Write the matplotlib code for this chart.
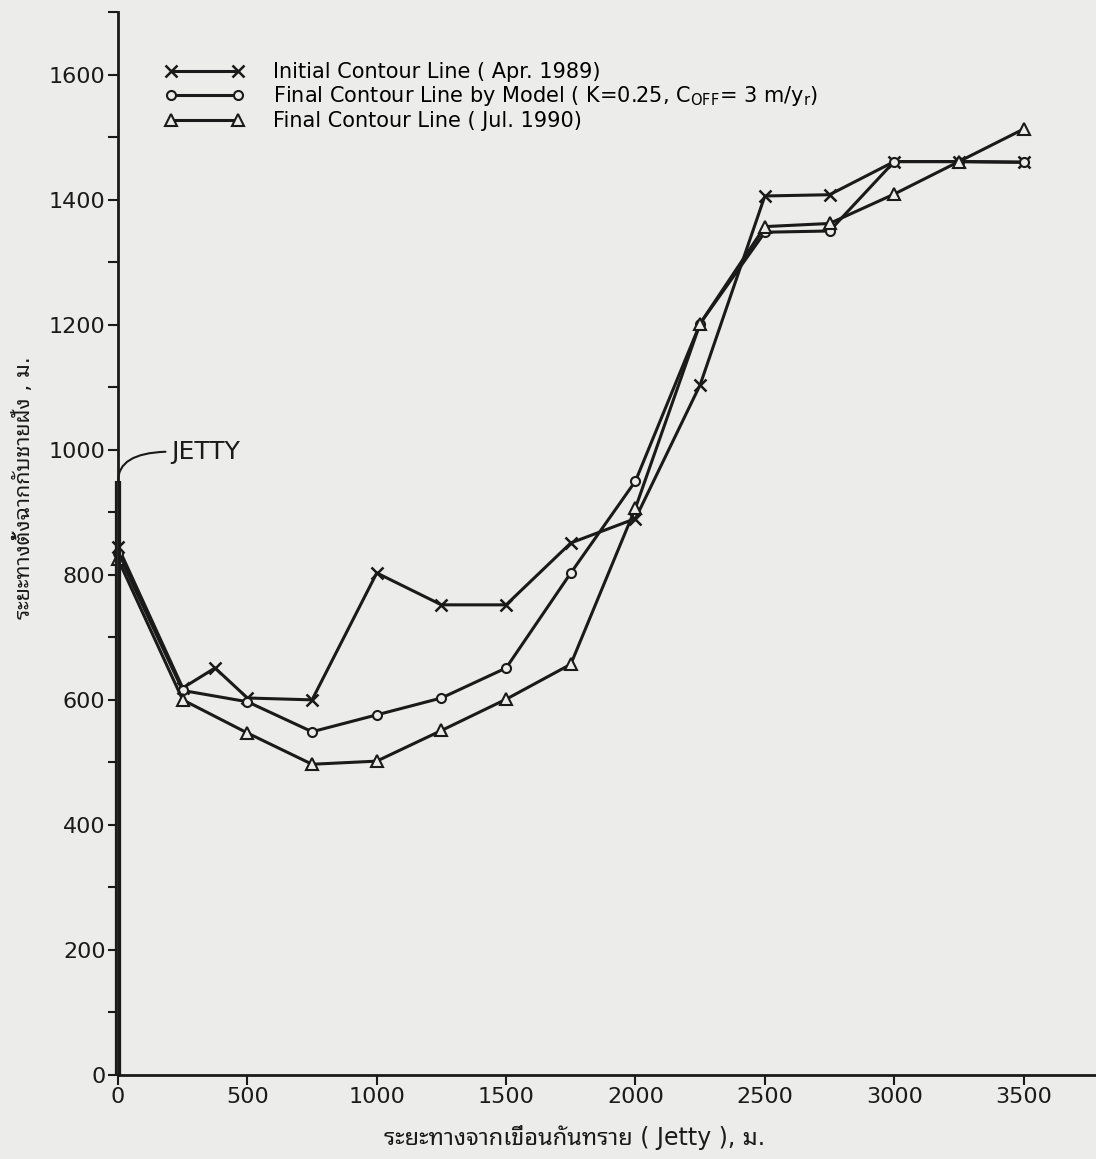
import matplotlib
matplotlib.use("Agg")
import matplotlib.pyplot as plt
from matplotlib.ticker import MultipleLocator

# font list: latin first, thai glyphs fall through to a thai family
plt.rcParams["font.family"] = ["DejaVu Sans", "Noto Sans Thai Looped", "Noto Sans Thai", "Athiti"]

# ระยะทางจาก jetty (ม.)
init_x = [0, 250, 375, 500, 750, 1000, 1250, 1500, 1750, 2000, 2250, 2500, 2750, 3000, 3250, 3500]
init_y = [845, 619, 651, 603, 600, 803, 752, 752, 851, 890, 1104, 1406, 1408, 1461, 1461, 1460]

dist = [0, 250, 500, 750, 1000, 1250, 1500, 1750, 2000, 2250, 2500, 2750, 3000, 3250, 3500]
model_y = [835, 615, 597, 549, 576, 603, 651, 803, 950, 1202, 1348, 1350, 1461, 1461, 1460]
final_y = [825, 600, 547, 497, 502, 551, 601, 657, 907, 1202, 1357, 1362, 1409, 1461, 1513]

labels = [
    "Initial Contour Line ( Apr. 1989)",
    r"Final Contour Line by Model ( K=0.25, C$_{\mathrm{OFF}}$= 3 m/y$_{\mathrm{r}}$)",
    "Final Contour Line ( Jul. 1990)",
]

jetty_x = [0, 0]
jetty_y = [0, 950]

bg = "#ececea"
ink = "#1a1a1a"

fig = plt.figure(figsize=(10.96, 11.59), dpi=100, facecolor=bg)
ax = fig.add_axes([0.1077, 0.0725, 0.8923, 0.917], facecolor=bg)

ax.plot(init_x, init_y, color=ink, lw=2.2, marker="x", ms=8, mew=1.8,
        clip_on=False, label=labels[0])
ax.plot(dist, model_y, color=ink, lw=2.2, marker="o", ms=6.5, mew=1.5,
        mfc=bg, clip_on=False, label=labels[1])
ax.plot(dist, final_y, color=ink, lw=2.2, marker="^", ms=9, mew=1.5,
        mfc=bg, clip_on=False, label=labels[2])

# jetty (เส้นคู่ที่แกน y)
ax.plot(jetty_x, jetty_y, color=ink, lw=4.5, clip_on=False, solid_capstyle="butt")
ax.plot(jetty_x, jetty_y, color=bg, lw=1.2, clip_on=False, solid_capstyle="butt")
ax.annotate("JETTY", xy=(0, jetty_y[1]), xytext=(205, 997), fontsize=18,
            va="center", ha="left", color=ink,
            arrowprops=dict(arrowstyle="-", color=ink, lw=1.5, relpos=(0, 0.5),
                            shrinkA=2, shrinkB=0,
                            connectionstyle="angle3,angleA=0,angleB=90"))

ax.set_xlim(0, 3780)
ax.set_ylim(0, 1700)
ax.xaxis.set_major_locator(MultipleLocator(500))
ax.yaxis.set_major_locator(MultipleLocator(200))
ax.yaxis.set_minor_locator(MultipleLocator(100))
ax.set_yticks([0, 200, 400, 600, 800, 1000, 1200, 1400, 1600])
ax.tick_params(direction="out", length=7, width=1.5, labelsize=16, colors=ink, pad=2)
ax.tick_params(axis="y", which="minor", direction="out", length=7, width=1.5, colors=ink)

for s in ["top", "right"]:
    ax.spines[s].set_visible(False)
for s in ["left", "bottom"]:
    ax.spines[s].set_linewidth(2)
    ax.spines[s].set_color(ink)

ax.legend(loc="upper left", bbox_to_anchor=(165 / 1096, 1 - 62 / 1159),
          bbox_transform=fig.transFigure, frameon=False, fontsize=15,
          numpoints=2, handlelength=3.8, handletextpad=1.4, labelspacing=0.12,
          borderpad=0, borderaxespad=0)

fig.text(24 / 1096, 1 - 488 / 1159, "ระยะทางตั้งฉากกับชายฝั่ง , ม.", rotation=90,
         ha="center", va="center", fontsize=15.5, color=ink)
fig.text(575 / 1096, 1 - 1137 / 1159, "ระยะทางจากเขื่อนกันทราย ( Jetty ), ม.",
         ha="center", va="center", fontsize=17, color=ink)

fig.savefig("out.png", dpi=100, facecolor=bg)
